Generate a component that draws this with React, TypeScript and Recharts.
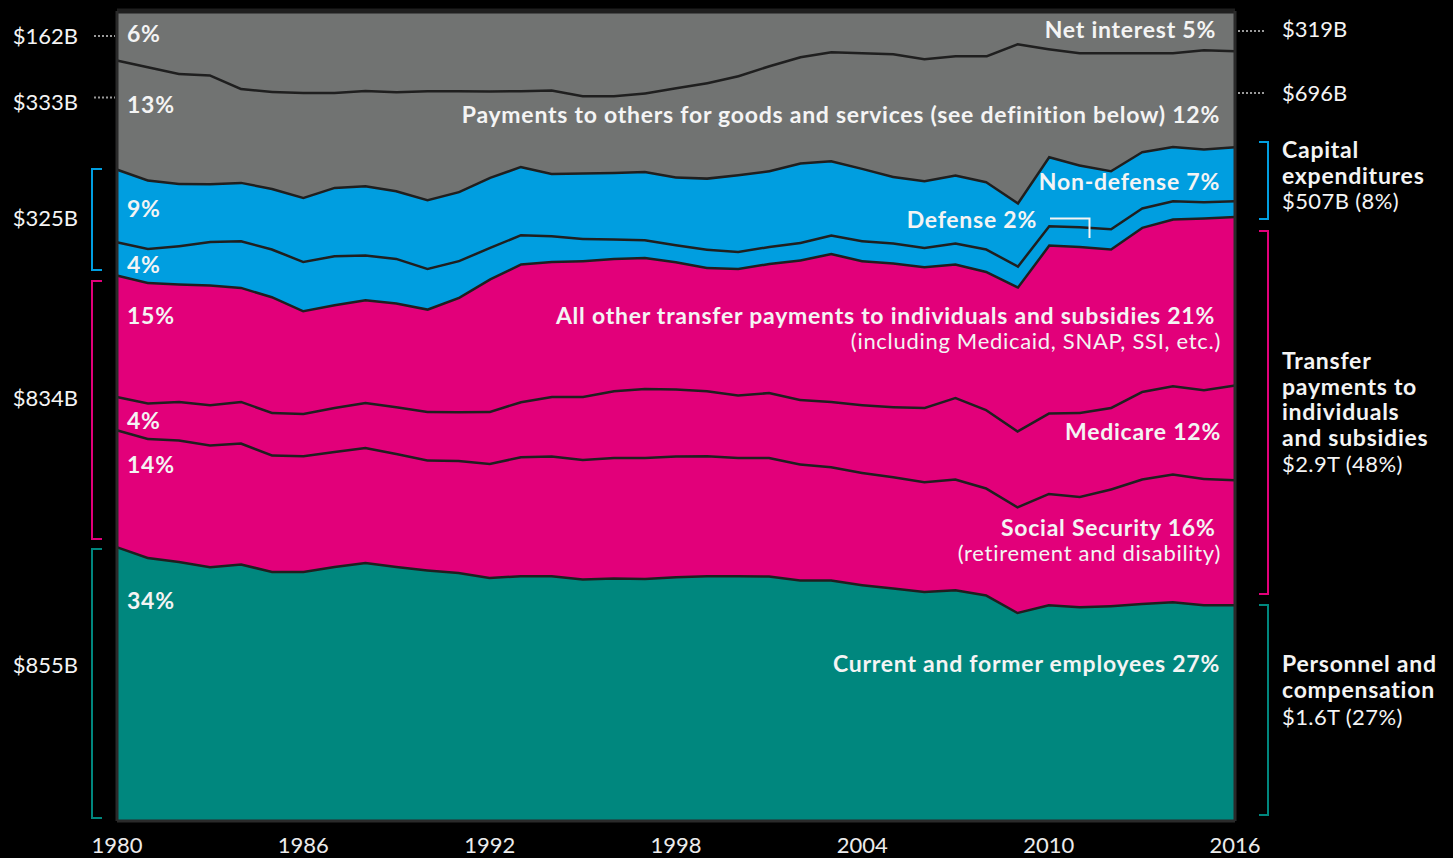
import React from 'react';
import { AreaChart, Area, XAxis, YAxis, ReferenceLine } from 'recharts';

const years = [1980, 1981, 1982, 1983, 1984, 1985, 1986, 1987, 1988, 1989, 1990, 1991, 1992, 1993, 1994, 1995, 1996, 1997, 1998, 1999, 2000, 2001, 2002, 2003, 2004, 2005, 2006, 2007, 2008, 2009, 2010, 2011, 2012, 2013, 2014, 2015, 2016];

const employees = [33.95, 32.63, 32.14, 31.48, 31.81, 30.9, 30.9, 31.52, 32.01, 31.52, 31.07, 30.78, 30.16, 30.37, 30.37, 29.96, 30.09, 30.04, 30.25, 30.37, 30.37, 30.33, 29.84, 29.84, 29.26, 28.85, 28.43, 28.64, 27.99, 25.84, 26.79, 26.54, 26.67, 26.95, 27.16, 26.79, 26.79];
const socialSecurity = [14.44, 14.69, 14.99, 15.02, 14.94, 14.37, 14.28, 14.2, 14.2, 13.95, 13.58, 13.83, 14.07, 14.69, 14.78, 14.77, 14.89, 14.94, 14.9, 14.81, 14.6, 14.64, 14.32, 13.99, 13.86, 13.74, 13.54, 13.67, 13.21, 13.05, 13.74, 13.62, 14.41, 15.36, 15.77, 15.59, 15.43];
const medicare = [4.11, 4.37, 4.77, 4.98, 5.14, 5.26, 5.22, 5.43, 5.56, 5.77, 6.0, 6.01, 6.42, 6.79, 7.36, 7.78, 8.23, 8.52, 8.27, 8.02, 7.7, 8.02, 7.98, 8.06, 8.36, 8.64, 9.17, 10.07, 9.67, 9.38, 9.93, 10.37, 10.07, 10.81, 10.9, 10.95, 11.69];
const otherTransfers = [14.99, 14.89, 14.49, 14.78, 14.07, 14.28, 12.68, 12.68, 12.68, 12.8, 12.64, 14.11, 16.35, 17.0, 16.67, 16.75, 16.33, 16.17, 15.72, 15.22, 15.63, 15.93, 17.21, 18.27, 17.78, 17.74, 17.37, 16.47, 17.07, 17.78, 20.74, 20.49, 19.56, 20.25, 20.58, 21.2, 20.81];
const defense = [4.11, 4.2, 4.73, 5.38, 5.77, 5.89, 6.09, 6.05, 5.52, 5.51, 5.01, 4.53, 3.9, 3.62, 3.17, 2.75, 2.4, 2.19, 2.1, 2.27, 2.1, 2.1, 2.17, 2.27, 2.47, 2.47, 2.38, 2.59, 2.77, 2.59, 2.38, 2.43, 2.51, 2.4, 2.26, 2.01, 1.94];
const nonDefense = [8.98, 8.44, 7.69, 7.12, 7.2, 7.48, 7.9, 8.43, 8.56, 8.36, 8.48, 8.52, 8.64, 8.43, 7.69, 8.07, 8.22, 8.43, 8.36, 8.77, 9.47, 9.35, 9.8, 9.17, 8.93, 8.22, 8.23, 8.4, 8.31, 7.81, 8.56, 7.62, 7.16, 6.95, 6.7, 6.51, 6.67];
const goodsServices = [13.46, 13.99, 13.58, 13.42, 11.6, 11.98, 12.96, 11.73, 11.77, 12.22, 13.46, 12.47, 10.67, 9.35, 10.3, 9.54, 9.47, 9.68, 11.02, 11.77, 12.22, 12.96, 13.12, 13.46, 14.28, 15.15, 15.06, 14.73, 15.56, 19.59, 13.3, 13.86, 14.57, 12.22, 11.57, 12.26, 11.85];
const netInterest = [5.96, 6.79, 7.62, 7.81, 9.47, 9.84, 9.96, 9.96, 9.72, 9.88, 9.75, 9.75, 9.79, 9.75, 9.67, 10.37, 10.37, 10.04, 9.38, 8.77, 7.9, 6.67, 5.56, 4.94, 5.06, 5.19, 5.8, 5.43, 5.43, 3.95, 4.57, 5.06, 5.06, 5.06, 5.06, 4.69, 4.81];

const xTicks = [1980, 1986, 1992, 1998, 2004, 2010, 2016];

const data = years.map((year, i) => ({
  year,
  employees: employees[i],
  socialSecurity: socialSecurity[i],
  medicare: medicare[i],
  otherTransfers: otherTransfers[i],
  defense: defense[i],
  nonDefense: nonDefense[i],
  goodsServices: goodsServices[i],
  netInterest: netInterest[i],
}));

const TEAL = '#00877e';
const MAGENTA = '#e2007a';
const BLUE = '#009ee0';
const GRAY = '#717372';
const LINE = '#1f1f1f';
const WHITE = '#f4f4f4';
const FONT = 'Lato, "Open Sans", sans-serif';

const series = [
  { key: 'employees', color: TEAL },
  { key: 'socialSecurity', color: MAGENTA },
  { key: 'medicare', color: MAGENTA },
  { key: 'otherTransfers', color: MAGENTA },
  { key: 'defense', color: BLUE },
  { key: 'nonDefense', color: BLUE },
  { key: 'goodsServices', color: GRAY },
  { key: 'netInterest', color: GRAY },
];

const B = (props: any) => <text fontFamily={FONT} fontWeight={700} fontSize={23} letterSpacing={0.75} fill={WHITE} {...props} />;
const R = (props: any) => <text fontFamily={FONT} fontWeight={400} fontSize={22} letterSpacing={0.7} fill={WHITE} {...props} />;
const N = (props: any) => <text fontFamily={FONT} fontWeight={400} fontSize={22} fill={WHITE} {...props} />;

function Overlay() {
  return (
    <svg width={1453} height={858} style={{ position: 'absolute', left: 0, top: 0, pointerEvents: 'none' }}>
      {/* in-plot left percentages */}
      <B x={127} y={41.5}>6%</B>
      <B x={127} y={113}>13%</B>
      <B x={127} y={216.5}>9%</B>
      <B x={127} y={272.5}>4%</B>
      <B x={127} y={324}>15%</B>
      <B x={127} y={429}>4%</B>
      <B x={127} y={472.5}>14%</B>
      <B x={127} y={609}>34%</B>

      {/* in-plot right labels */}
      <B x={1216} y={38} textAnchor="end">Net interest 5%</B>
      <B x={1220} y={123} textAnchor="end">Payments to others for goods and services (see definition below) 12%</B>
      <B x={1220} y={190} textAnchor="end">Non-defense 7%</B>
      <B x={1037} y={227.5} textAnchor="end">Defense 2%</B>
      <polyline points="1050,218.5 1089.5,218.5 1089.5,238" fill="none" stroke={WHITE} strokeWidth={2} />
      <B x={1215} y={324} textAnchor="end">All other transfer payments to individuals and subsidies 21%</B>
      <R x={1221} y={349} textAnchor="end">(including Medicaid, SNAP, SSI, etc.)</R>
      <B x={1221} y={440} textAnchor="end">Medicare 12%</B>
      <B x={1215.5} y={536} textAnchor="end">Social Security 16%</B>
      <R x={1221} y={561} textAnchor="end">(retirement and disability)</R>
      <B x={1220} y={671.5} textAnchor="end">Current and former employees 27%</B>

      {/* left labels */}
      <N x={78} y={43.5} textAnchor="end">$162B</N>
      <N x={78} y={110} textAnchor="end">$333B</N>
      <N x={78} y={225.5} textAnchor="end">$325B</N>
      <N x={78} y={406} textAnchor="end">$834B</N>
      <N x={78} y={673} textAnchor="end">$855B</N>
      <line x1={94} x2={115} y1={36} y2={36} stroke="#9a9a9a" strokeWidth={2} strokeDasharray="2 2" />
      <line x1={94} x2={115} y1={97.5} y2={97.5} stroke="#9a9a9a" strokeWidth={2} strokeDasharray="2 2" />
      <polyline points="102,169 92,169 92,270 102,270" fill="none" stroke={BLUE} strokeWidth={2} />
      <polyline points="102,281 92,281 92,539 102,539" fill="none" stroke={MAGENTA} strokeWidth={2} />
      <polyline points="102,549 92,549 92,818 102,818" fill="none" stroke={TEAL} strokeWidth={2} />

      {/* right labels */}
      <line x1={1238} x2={1266} y1={31} y2={31} stroke="#9a9a9a" strokeWidth={2} strokeDasharray="2 2" />
      <line x1={1238} x2={1266} y1={93} y2={93} stroke="#9a9a9a" strokeWidth={2} strokeDasharray="2 2" />
      <N x={1282} y={37}>$319B</N>
      <N x={1282} y={100.5}>$696B</N>
      <polyline points="1259,142 1268,142 1268,219 1259,219" fill="none" stroke={BLUE} strokeWidth={2} />
      <B x={1282} y={158}>Capital</B>
      <B x={1282} y={183.5}>expenditures</B>
      <R x={1282} y={209} letterSpacing={0.4}>$507B (8%)</R>
      <polyline points="1259,231 1268,231 1268,594 1259,594" fill="none" stroke={MAGENTA} strokeWidth={2} />
      <B x={1282} y={369}>Transfer</B>
      <B x={1282} y={394.5}>payments to</B>
      <B x={1282} y={420}>individuals</B>
      <B x={1282} y={446}>and subsidies</B>
      <R x={1282} y={472} letterSpacing={0.4}>$2.9T (48%)</R>
      <polyline points="1259,605 1268,605 1268,815 1259,815" fill="none" stroke={TEAL} strokeWidth={2} />
      <B x={1282} y={671.5}>Personnel and</B>
      <B x={1282} y={697.5}>compensation</B>
      <R x={1282} y={724.5} letterSpacing={0.4}>$1.6T (27%)</R>
    </svg>
  );
}

export default function App() {
  return (
    <div style={{ position: 'fixed', left: 0, top: 0, width: 1453, height: 858, background: '#000', fontFamily: FONT, overflow: 'hidden' }}>
      <div style={{ position: 'absolute', left: 0, top: 0 }}>
        <AreaChart
          width={1453}
          height={858}
          data={data}
          stackOffset="expand"
          margin={{ top: 11, right: 218, bottom: 0, left: 117 }}
        >
          <XAxis
            dataKey="year"
            type="number"
            domain={[1980, 2016]}
            ticks={xTicks}
            height={37}
            axisLine={false}
            tickLine={false}
            tickSize={6}
            tickMargin={10}
            interval={0}
            tick={{ fill: '#ececec', fontSize: 22, fontFamily: FONT }}
          />
          <YAxis hide domain={[0, 1]} />
          {series.map((s) => (
            <Area
              key={s.key}
              type="linear"
              dataKey={s.key}
              stackId="1"
              fill={s.color}
              fillOpacity={1}
              stroke={LINE}
              strokeWidth={5}
              dot={false}
              activeDot={false}
              isAnimationActive={false}
            />
          ))}
          <ReferenceLine x={1980} stroke="#2a2a2a" strokeWidth={3} />
          <ReferenceLine x={2016} stroke="#2a2a2a" strokeWidth={3} />
          <ReferenceLine y={0} stroke="#2a2a2a" strokeWidth={3} />
        </AreaChart>
      </div>
      <Overlay />
    </div>
  );
}
